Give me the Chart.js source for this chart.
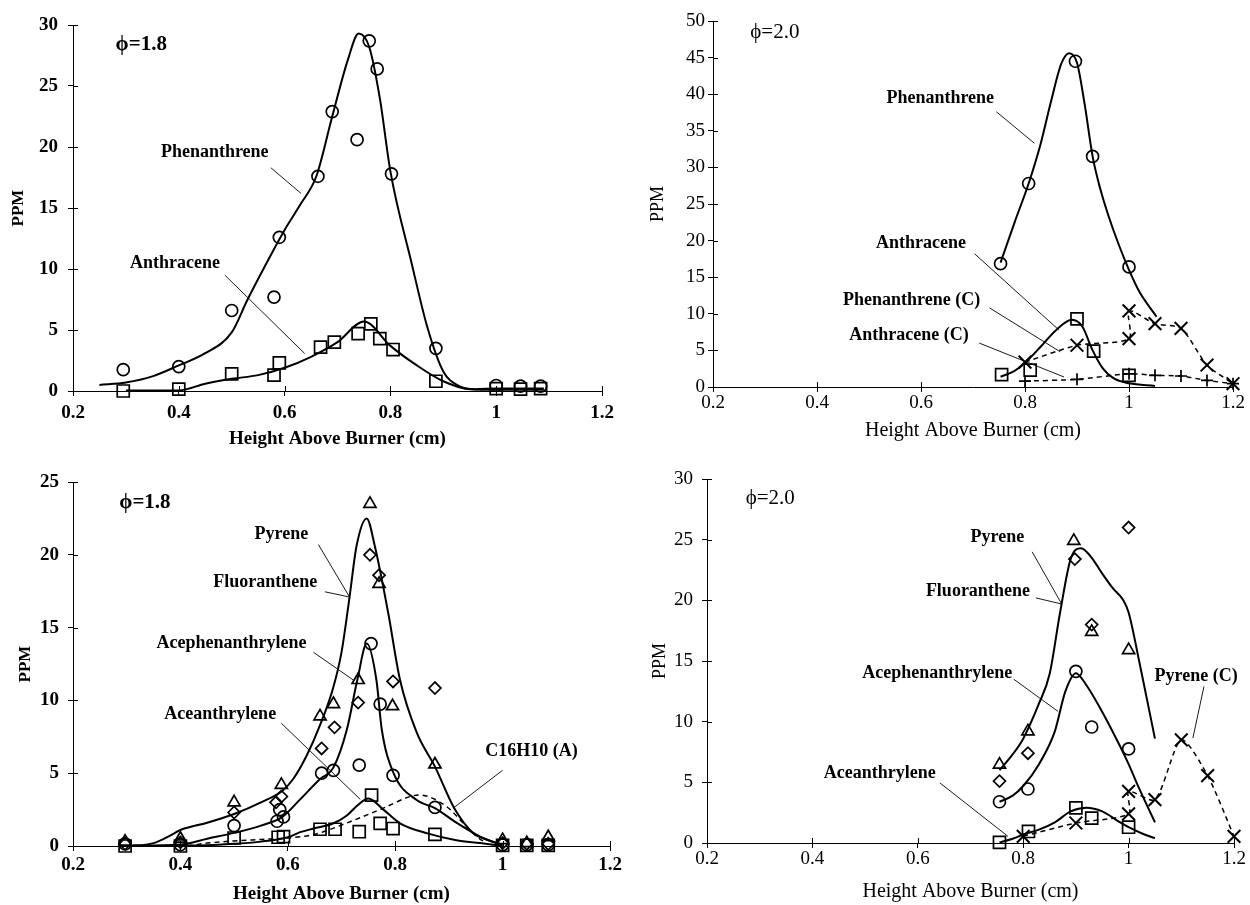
<!DOCTYPE html>
<html>
<head>
<meta charset="utf-8">
<script src="https://cdn.jsdelivr.net/npm/chart.js@4.4.1/dist/chart.umd.min.js"></script>
<style>
	body { margin: 0; background: #fff; width: 1250px; height: 905px; position: relative; overflow: hidden; }
	canvas { position: absolute; }
</style>
</head>
<body>
<canvas id="panel1" width="620" height="450" style="left:0px;top:0px"></canvas>
<canvas id="panel2" width="630" height="450" style="left:620px;top:0px"></canvas>
<canvas id="panel3" width="625" height="455" style="left:0px;top:450px"></canvas>
<canvas id="panel4" width="630" height="455" style="left:620px;top:450px"></canvas>
<script>
// ---- panel 1 : phi = 1.8, phenanthrene / anthracene
const p1PhenX = [0.295, 0.4, 0.5, 0.58, 0.59, 0.663, 0.69, 0.737, 0.76, 0.775, 0.802, 0.886, 1.0, 1.046, 1.084];
const p1PhenY = [1.75, 2.0, 6.6, 7.7, 12.6, 17.6, 22.9, 20.6, 28.7, 26.4, 17.8, 3.5, 0.45, 0.4, 0.4];
const p1AnthX = [0.295, 0.4, 0.5, 0.58, 0.59, 0.668, 0.694, 0.739, 0.763, 0.78, 0.805, 0.886, 1.0, 1.046, 1.084];
const p1AnthY = [0, 0.15, 1.4, 1.3, 2.3, 3.6, 4.0, 4.7, 5.5, 4.3, 3.4, 0.8, 0.2, 0.15, 0.2];
const p1PhenFitX = [0.25, 0.3, 0.35, 0.4, 0.45, 0.5, 0.53, 0.56, 0.6, 0.63, 0.66, 0.69, 0.72, 0.74, 0.76, 0.78, 0.8, 0.84, 0.87, 0.9, 0.93, 0.96, 1.0, 1.09];
const p1PhenFitY = [0.5, 0.7, 1.2, 2.1, 3.1, 4.8, 7.5, 10, 13.2, 15.3, 17.6, 22.5, 27.2, 29.3, 28.2, 24, 18, 10.5, 5.2, 1.6, 0.4, 0.15, 0.2, 0.2];
const p1AnthFitX = [0.3, 0.4, 0.45, 0.5, 0.55, 0.6, 0.65, 0.7, 0.75, 0.8, 0.85, 0.9, 0.95, 1.0, 1.09];
const p1AnthFitY = [0.05, 0.05, 0.6, 1.0, 1.3, 1.9, 2.8, 4.0, 5.7, 3.7, 2.1, 0.8, 0.15, 0.1, 0.1];
const p1Labels = ['ϕ=1.8', 'Phenanthrene', 'Anthracene'];
const p1LabelX = [0.329, 0.468, 0.393];
const p1LabelY = [28.4, 19.6, 10.5];
const p1Leaders = [[0.574, 18.3, 0.631, 16.2], [0.487, 9.5, 0.638, 3.07]];

// ---- panel 2 : phi = 2.0, phenanthrene / anthracene
const p2PhenX = [0.753, 0.807, 0.897, 0.93, 1.0];
const p2PhenY = [16.85, 27.8, 44.5, 31.5, 16.4];
const p2AnthX = [0.755, 0.81, 0.9, 0.932, 1.0];
const p2AnthY = [1.7, 2.3, 9.3, 4.9, 1.6];
const p2PhenCX = [0.8, 0.9, 1.0, 1.0, 1.05, 1.1, 1.15, 1.2];
const p2PhenCY = [3.4, 5.7, 6.6, 10.4, 8.65, 8.0, 3.0, 0.45];
const p2AnthCX = [0.8, 0.9, 1.0, 1.05, 1.1, 1.15, 1.2];
const p2AnthCY = [0.8, 1.05, 1.8, 1.6, 1.5, 0.9, 0.45];
const p2PhenFitX = [0.753, 0.78, 0.807, 0.83, 0.85, 0.87, 0.885, 0.9, 0.915, 0.93, 0.945, 0.96, 0.98, 1.0, 1.02, 1.053];
const p2PhenFitY = [17.0, 22.5, 27.8, 33.2, 39, 44.2, 45.6, 44.3, 38.5, 31.5, 27, 23.5, 19.5, 16, 13, 9.6];
const p2AnthFitX = [0.753, 0.78, 0.8, 0.83, 0.86, 0.89, 0.91, 0.93, 0.95, 0.97, 1.0, 1.05];
const p2AnthFitY = [1.4, 2.2, 3.3, 5.5, 7.8, 9.2, 8.3, 5.0, 2.5, 1.2, 0.5, 0.15];
const p2Labels = ['ϕ=2.0', 'Phenanthrene', 'Anthracene', 'Phenanthrene (C)', 'Anthracene (C)'];
const p2LabelX = [0.319, 0.637, 0.6, 0.582, 0.577];
const p2LabelY = [48.4, 39.5, 19.6, 11.9, 7.1];
const p2Leaders = [[0.745, 37.6, 0.818, 33.3], [0.703, 18.2, 0.865, 7.8], [0.732, 10.8, 0.868, 4.8], [0.712, 6.0, 0.875, 1.37]];

// ---- panel 3 : phi = 1.8, C16H10 isomers
const p3PyrX = [0.297, 0.4, 0.5, 0.588, 0.66, 0.685, 0.731, 0.753, 0.77, 0.795, 0.874, 1.0, 1.045, 1.085];
const p3PyrY = [0.3, 0.5, 3.0, 4.2, 8.9, 9.75, 11.4, 23.5, 18.0, 9.6, 5.6, 0.4, 0.2, 0.6];
const p3FluX = [0.297, 0.4, 0.5, 0.578, 0.588, 0.663, 0.687, 0.731, 0.753, 0.77, 0.796, 0.874, 1.0, 1.045, 1.085];
const p3FluY = [0.15, 0.25, 2.3, 3.0, 3.4, 6.7, 8.15, 9.85, 20.0, 18.6, 11.3, 10.85, 0.2, 0.15, 0.15];
const p3AcepX = [0.297, 0.4, 0.5, 0.58, 0.585, 0.592, 0.663, 0.685, 0.733, 0.755, 0.772, 0.796, 0.874, 1.0, 1.045, 1.085];
const p3AcepY = [0.15, 0.1, 1.4, 1.7, 2.5, 2.0, 5.0, 5.2, 5.56, 13.9, 9.75, 4.85, 2.65, 0.1, 0.1, 0.1];
const p3AceaX = [0.297, 0.4, 0.5, 0.582, 0.592, 0.66, 0.688, 0.733, 0.756, 0.772, 0.796, 0.874, 1.0, 1.045, 1.085];
const p3AceaY = [0, 0, 0.55, 0.6, 0.65, 1.15, 1.15, 0.98, 3.5, 1.55, 1.2, 0.8, 0.05, 0.05, 0.05];
const p3PyrFitX = [0.3, 0.35, 0.38, 0.4, 0.45, 0.5, 0.55, 0.59, 0.61, 0.635, 0.66, 0.684, 0.7, 0.715, 0.728, 0.747, 0.762, 0.787, 0.809, 0.84, 0.874, 0.91, 0.945, 0.97, 1.0];
const p3PyrFitY = [0, 0.2, 0.7, 1.1, 1.6, 2.2, 3.0, 3.8, 4.6, 6.2, 8.3, 10.8, 13.3, 17.1, 20.6, 22.5, 20.6, 16.0, 11.4, 7.8, 5.45, 2.6, 0.9, 0.45, 0.1];
const p3AcepFitX = [0.3, 0.4, 0.45, 0.5, 0.55, 0.59, 0.623, 0.66, 0.685, 0.71, 0.73, 0.747, 0.765, 0.775, 0.797, 0.84, 0.874, 0.914, 0.958, 0.98, 1.0];
const p3AcepFitY = [0, 0.1, 0.5, 0.9, 1.4, 2.0, 3.2, 4.6, 5.4, 8.0, 11.5, 13.9, 11.4, 8.0, 5.0, 3.16, 2.6, 1.6, 0.64, 0.3, 0.05];
const p3AceaFitX = [0.3, 0.45, 0.5, 0.55, 0.6, 0.623, 0.648, 0.685, 0.71, 0.73, 0.75, 0.778, 0.809, 0.86, 0.914, 0.958, 1.0];
const p3AceaFitY = [0, 0.05, 0.15, 0.3, 0.6, 0.95, 1.2, 1.56, 2.1, 2.8, 3.27, 2.5, 1.56, 0.87, 0.4, 0.2, 0];
const p3IsoFitX = [0.38, 0.42, 0.45, 0.5, 0.55, 0.6, 0.65, 0.716, 0.778, 0.828, 0.845, 0.896, 0.927, 0.952, 0.97];
const p3IsoFitY = [0, 0.05, 0.2, 0.35, 0.45, 0.55, 0.8, 1.67, 2.6, 3.4, 3.5, 2.7, 1.56, 0.64, 0.2];
const p3Labels = ['ϕ=1.8', 'Pyrene', 'Fluoranthene', 'Acephenanthrylene', 'Aceanthrylene', 'C16H10 (A)'];
const p3LabelX = [0.334, 0.588, 0.558, 0.495, 0.474, 1.054];
const p3LabelY = [23.6, 21.4, 18.1, 13.9, 9.07, 6.5];
const p3Leaders = [[0.657, 20.7, 0.715, 17.1], [0.669, 17.46, 0.715, 17.1], [0.648, 13.3, 0.722, 11.4], [0.588, 8.43, 0.735, 3.2], [1.0, 5.2, 0.908, 2.6]];

// ---- panel 4 : phi = 2.0, C16H10 isomers
const p4PyrX = [0.755, 0.809, 0.896, 0.93, 1.0];
const p4PyrY = [6.46, 9.2, 24.9, 17.4, 15.9];
const p4FluX = [0.755, 0.809, 0.898, 0.93, 1.0];
const p4FluY = [5.1, 7.4, 23.4, 18.0, 26.0];
const p4AcepX = [0.755, 0.809, 0.9, 0.93, 1.0];
const p4AcepY = [3.4, 4.45, 14.15, 9.56, 7.75];
const p4AceaX = [0.755, 0.81, 0.9, 0.93, 1.0];
const p4AceaY = [0.05, 0.95, 2.9, 2.05, 1.3];
const p4PyrCX = [0.8, 0.9, 1.0, 1.0, 1.05, 1.1, 1.15, 1.2];
const p4PyrCY = [0.55, 1.65, 2.4, 4.25, 3.57, 8.5, 5.55, 0.55];
const p4PyrFitX = [0.755, 0.78, 0.8, 0.83, 0.85, 0.87, 0.89, 0.91, 0.93, 0.95, 0.97, 0.99, 1.0, 1.02, 1.05];
const p4PyrFitY = [6.0, 7.3, 8.6, 11.5, 13.9, 19.0, 23.4, 24.3, 23.5, 22.2, 21, 20, 19, 15, 8.6];
const p4AcepFitX = [0.755, 0.78, 0.8, 0.83, 0.86, 0.88, 0.9, 0.92, 0.95, 0.98, 1.0, 1.02, 1.05];
const p4AcepFitY = [3.4, 3.9, 4.7, 6.5, 9.2, 12.5, 14.0, 13.0, 10.8, 8.3, 6.5, 4.5, 1.7];
const p4AceaFitX = [0.755, 0.78, 0.8, 0.83, 0.86, 0.89, 0.92, 0.95, 0.98, 1.0, 1.03, 1.05];
const p4AceaFitY = [0.05, 0.35, 0.7, 1.1, 1.7, 2.6, 2.9, 2.6, 1.8, 1.3, 0.7, 0.4];
const p4Labels = ['ϕ=2.0', 'Pyrene', 'Fluoranthene', 'Acephenanthrylene', 'Aceanthrylene', 'Pyrene (C)'];
const p4LabelX = [0.32, 0.751, 0.714, 0.637, 0.528, 1.128];
const p4LabelY = [28.4, 25.2, 20.7, 14.0, 5.77, 13.7];
const p4Leaders = [[0.817, 24.0, 0.873, 19.7], [0.824, 20.2, 0.873, 19.7], [0.782, 13.5, 0.866, 10.85], [0.642, 4.95, 0.771, 0.55], [1.143, 12.9, 1.122, 8.65]];

const serif = "'Liberation Serif', 'Times New Roman', 'DejaVu Serif', serif";
Chart.defaults.font.family = serif;
Chart.defaults.color = '#000';

const pts = (xs, ys) => xs.map((x, i) => ({ x: x, y: ys[i] }));

const marks = function (xs, ys, style, radius, width) {
	return {
		type: 'scatter',
		data: pts(xs, ys),
		showLine: false,
		pointStyle: style,
		pointRadius: radius,
		pointHoverRadius: radius,
		pointBorderWidth: width || 1.7,
		pointBorderColor: '#000',
		pointBackgroundColor: 'rgba(0,0,0,0)',
		clip: false
	};
};

const fit = function (xs, ys, dashed, straight) {
	return {
		type: 'line',
		data: pts(xs, ys),
		pointRadius: 0,
		borderColor: '#000',
		borderWidth: dashed ? 1.5 : 2,
		borderDash: dashed ? [5, 4] : [],
		cubicInterpolationMode: straight ? 'default' : 'monotone',
		tension: straight ? 0.25 : 0,
		fill: false,
		clip: false
	};
};

// labels and leader lines, placed in data units through the chart scales
const notesPlugin = {
	id: 'notes',
	afterDatasetsDraw(chart, args, opts) {
		const ctx = chart.ctx;
		const sx = chart.scales.x;
		const sy = chart.scales.y;
		ctx.save();
		ctx.strokeStyle = '#000';
		ctx.lineWidth = 0.9;
		opts.leaders.forEach(l => {
			ctx.beginPath();
			ctx.moveTo(sx.getPixelForValue(l[0]), sy.getPixelForValue(l[1]));
			ctx.lineTo(sx.getPixelForValue(l[2]), sy.getPixelForValue(l[3]));
			ctx.stroke();
		});
		ctx.fillStyle = '#000';
		ctx.textAlign = 'center';
		ctx.textBaseline = 'middle';
		opts.labels.forEach((text, i) => {
			ctx.font = i === 0 ? opts.phiFont : opts.labelFont;
			ctx.fillText(text, sx.getPixelForValue(opts.xs[i]), sy.getPixelForValue(opts.ys[i]));
		});
		ctx.restore();
	}
};

// the tick marks of the original cross the axis, so add the inner half
const innerTicks = {
	id: 'innerTicks',
	afterDraw(chart) {
		const ctx = chart.ctx;
		const a = chart.chartArea;
		const sx = chart.scales.x;
		const sy = chart.scales.y;
		ctx.save();
		ctx.strokeStyle = '#000';
		ctx.lineWidth = 1;
		ctx.beginPath();
		sx.ticks.forEach(t => {
			const px = Math.round(sx.getPixelForValue(t.value)) + 0.5;
			ctx.moveTo(px, a.bottom);
			ctx.lineTo(px, a.bottom - 5);
		});
		sy.ticks.forEach(t => {
			const py = Math.round(sy.getPixelForValue(t.value)) + 0.5;
			ctx.moveTo(a.left, py);
			ctx.lineTo(a.left + 5, py);
		});
		ctx.stroke();
		ctx.restore();
	}
};

const Panel = function (id, g, yMax, datasets, labels, xs, ys, leaders) {
	const weight = g.bold ? 'bold' : 'normal';
	const config = {
		type: 'scatter',
		data: { datasets: datasets },
		options: {
			responsive: false,
			animation: false,
			events: [],
			layout: { padding: { left: 0, top: g.top, right: g.w - g.right, bottom: 0 } },
			plugins: {
				legend: { display: false },
				tooltip: { enabled: false },
				notes: {
					labels: labels, xs: xs, ys: ys, leaders: leaders,
					labelFont: 'bold 18px ' + serif,
					phiFont: weight + ' 21px ' + serif
				}
			},
			scales: {
				x: {
					type: 'linear', min: 0.2, max: 1.2,
					afterFit: s => { s.height = g.h - g.bottom; },
					border: { display: true, color: '#000', width: 1 },
					grid: { drawOnChartArea: false, drawTicks: true, tickLength: g.tick, color: '#000' },
					ticks: {
						stepSize: 0.2, padding: g.xPad, maxRotation: 0,
						font: { size: g.tickSize, weight: weight },
						callback: v => String(Math.round(v * 10) / 10)
					},
					title: {
						display: true, text: 'Height Above Burner (cm)',
						padding: { top: 0, bottom: g.xTitlePad },
						font: { size: g.titleSize, weight: weight }
					}
				},
				y: {
					type: 'linear', min: 0, max: yMax,
					afterFit: s => { s.width = g.left; },
					border: { display: true, color: '#000', width: 1 },
					grid: { drawOnChartArea: false, drawTicks: true, tickLength: g.tick, color: '#000' },
					ticks: { stepSize: 5, padding: g.yPad, font: { size: g.tickSize, weight: weight } },
					title: {
						display: true, text: 'PPM',
						padding: { top: g.yTitlePad, bottom: 0 },
						font: { size: g.bold ? 17 : 18, weight: weight }
					}
				}
			}
		},
		plugins: [notesPlugin, innerTicks]
	};
	return new Chart(document.getElementById(id), config);
};

Panel('panel1',
	{ w: 620, h: 450, left: 73, right: 602, top: 25, bottom: 391, bold: true, tick: 5, xPad: 6, yPad: 10, tickSize: 19, titleSize: 19, xTitlePad: 0, yTitlePad: 8 },
	30,
	[
		fit(p1PhenFitX, p1PhenFitY),
		fit(p1AnthFitX, p1AnthFitY),
		marks(p1PhenX, p1PhenY, 'circle', 6),
		marks(p1AnthX, p1AnthY, 'rect', 8.5)
	],
	p1Labels, p1LabelX, p1LabelY, p1Leaders);

Panel('panel2',
	{ w: 630, h: 450, left: 93, right: 613, top: 21, bottom: 387, bold: false, tick: 5, xPad: 0, yPad: 3, tickSize: 19, titleSize: 20, xTitlePad: 7, yTitlePad: 27 },
	50,
	[
		fit(p2PhenFitX, p2PhenFitY),
		fit(p2AnthFitX, p2AnthFitY),
		fit(p2PhenCX, p2PhenCY, true, true),
		fit(p2AnthCX, p2AnthCY, true, true),
		marks(p2PhenX, p2PhenY, 'circle', 6),
		marks(p2AnthX, p2AnthY, 'rect', 8.5),
		marks(p2PhenCX, p2PhenCY, 'crossRot', 9, 2),
		marks(p2AnthCX, p2AnthCY, 'cross', 6, 1.7)
	],
	p2Labels, p2LabelX, p2LabelY, p2Leaders);

Panel('panel3',
	{ w: 625, h: 455, left: 73, right: 610, top: 32, bottom: 396, bold: true, tick: 5, xPad: 3, yPad: 9, tickSize: 19, titleSize: 19, xTitlePad: 0, yTitlePad: 15 },
	25,
	[
		fit(p3PyrFitX, p3PyrFitY),
		fit(p3AcepFitX, p3AcepFitY),
		fit(p3AceaFitX, p3AceaFitY),
		fit(p3IsoFitX, p3IsoFitY, true),
		marks(p3PyrX, p3PyrY, 'triangle', 7),
		marks(p3FluX, p3FluY, 'rectRot', 6),
		marks(p3AcepX, p3AcepY, 'circle', 6),
		marks(p3AceaX, p3AceaY, 'rect', 8.5)
	],
	p3Labels, p3LabelX, p3LabelY, p3Leaders);

Panel('panel4',
	{ w: 630, h: 455, left: 87, right: 614, top: 29, bottom: 393, bold: false, tick: 5, xPad: 0, yPad: 9, tickSize: 19, titleSize: 20, xTitlePad: 1, yTitlePad: 29 },
	30,
	[
		fit(p4PyrFitX, p4PyrFitY),
		fit(p4AcepFitX, p4AcepFitY),
		fit(p4AceaFitX, p4AceaFitY),
		fit(p4PyrCX, p4PyrCY, true, true),
		marks(p4PyrX, p4PyrY, 'triangle', 7),
		marks(p4FluX, p4FluY, 'rectRot', 6),
		marks(p4AcepX, p4AcepY, 'circle', 6),
		marks(p4AceaX, p4AceaY, 'rect', 8.5),
		marks(p4PyrCX, p4PyrCY, 'crossRot', 9, 2)
	],
	p4Labels, p4LabelX, p4LabelY, p4Leaders);
</script>
</body>
</html>
